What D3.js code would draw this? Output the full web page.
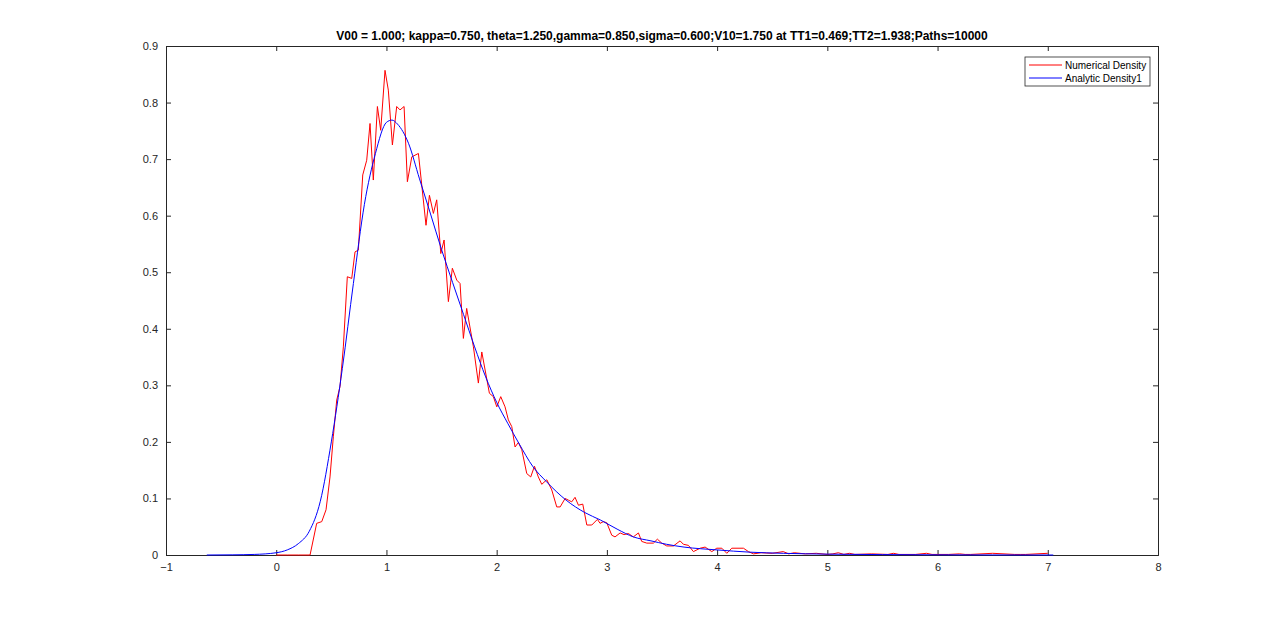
<!DOCTYPE html>
<html><head><meta charset="utf-8">
<script src="https://cdn.jsdelivr.net/npm/d3@7"></script>
<style>body{margin:0;background:#fff}svg{font-family:"Liberation Sans",Arial,sans-serif}</style>
</head><body><svg id="c" width="1280" height="624"></svg>
<script>
const titleText="V00 = 1.000; kappa=0.750, theta=1.250,gamma=0.850,sigma=0.600;V10=1.750 at TT1=0.469;TT2=1.938;Paths=10000";
const xTicks=[-1,0,1,2,3,4,5,6,7,8];
const yTicks=[0,0.1,0.2,0.3,0.4,0.5,0.6,0.7,0.8,0.9];
const numX=[0,0.1,0.2,0.307,0.367,0.413,0.452,0.488,0.518,0.549,0.579,0.609,0.645,0.685,0.715,0.745,0.785,0.821,0.851,0.881,0.918,0.948,0.987,1.017,1.054,1.093,1.123,1.160,1.190,1.230,1.290,1.359,1.390,1.426,1.456,1.493,1.523,1.562,1.598,1.638,1.668,1.698,1.728,1.789,1.834,1.865,1.934,1.970,2.001,2.037,2.076,2.106,2.137,2.167,2.197,2.228,2.273,2.309,2.343,2.378,2.409,2.455,2.500,2.545,2.576,2.621,2.651,2.681,2.711,2.742,2.781,2.818,2.863,2.914,2.938,2.968,2.999,3.044,3.074,3.120,3.156,3.195,3.240,3.286,3.316,3.362,3.422,3.458,3.498,3.543,3.604,3.664,3.694,3.740,3.785,3.846,3.891,3.952,3.997,4.043,4.088,4.133,4.239,4.284,4.330,4.4,4.5,4.6,4.65,4.7,4.8,4.9,5.0,5.05,5.1,5.15,5.2,5.25,5.4,5.55,5.6,5.65,5.8,5.9,5.95,6.1,6.2,6.25,6.3,6.5,6.7,6.75,6.8,7.0];
const numY=[0,0,0,0,0.056,0.059,0.080,0.138,0.209,0.274,0.298,0.368,0.492,0.489,0.536,0.539,0.672,0.698,0.763,0.663,0.793,0.751,0.857,0.822,0.725,0.793,0.787,0.793,0.660,0.704,0.710,0.583,0.636,0.604,0.628,0.533,0.557,0.448,0.507,0.486,0.480,0.383,0.436,0.368,0.304,0.359,0.286,0.280,0.262,0.280,0.262,0.239,0.227,0.191,0.199,0.186,0.144,0.138,0.157,0.138,0.125,0.133,0.115,0.085,0.085,0.100,0.097,0.094,0.102,0.088,0.090,0.053,0.053,0.063,0.056,0.059,0.057,0.035,0.032,0.039,0.036,0.038,0.032,0.039,0.024,0.021,0.021,0.028,0.021,0.016,0.016,0.025,0.019,0.017,0.006,0.012,0.014,0.006,0.012,0.012,0.003,0.012,0.012,0.006,0.002,0.004,0.003,0.006,0.002,0.004,0.002,0.003,0.001,0.002,0.004,0.001,0.003,0.001,0.002,0.001,0.003,0.001,0.001,0.003,0.001,0.001,0.002,0.001,0.001,0.003,0.001,0.001,0.001,0.003,0.001,0];
const anaX=[-0.63,-0.4,-0.2,0,0.1,0.2,0.3,0.4,0.5,0.6,0.7,0.8,0.9,1.0,1.05,1.1,1.2,1.3,1.4,1.5,1.6,1.7,1.8,1.9,2.0,2.1,2.2,2.33,2.45,2.63,2.8,2.94,3.1,3.24,3.4,3.54,3.7,4.0,4.3,4.6,5.0,5.5,6.0,6.5,7.05];
const anaY=[0,0.0003,0.001,0.004,0.009,0.02,0.042,0.095,0.2,0.33,0.48,0.62,0.71,0.765,0.769,0.762,0.728,0.665,0.603,0.54,0.482,0.425,0.368,0.315,0.27,0.233,0.198,0.156,0.13,0.097,0.075,0.062,0.045,0.032,0.025,0.019,0.014,0.009,0.005,0.003,0.0015,0.0007,0.0003,0.0001,0];

const svg=d3.select("#c");
const L=166,R=1158,T=46,B=555;
const x=d3.scaleLinear().domain([-1,8]).range([L,R]);
const y=d3.scaleLinear().domain([0,0.9]).range([B,T]);
svg.append("rect").attr("x",L).attr("y",T).attr("width",R-L).attr("height",B-T).attr("fill","#fff");
const gx=svg.append("g").attr("transform",`translate(0,${B})`).call(d3.axisBottom(x).tickValues(xTicks).tickSize(-5).tickPadding(8).tickFormat(d3.format("d")));
svg.append("g").attr("transform",`translate(0,${T})`).call(d3.axisTop(x).tickValues(xTicks).tickSize(-5).tickFormat(""));
const gy=svg.append("g").attr("transform",`translate(${L},0)`).call(d3.axisLeft(y).tickValues(yTicks).tickSize(-5).tickPadding(8).tickFormat(d=>d===0?"0":d3.format(".1f")(d)));
svg.append("g").attr("transform",`translate(${R},0)`).call(d3.axisRight(y).tickValues(yTicks).tickSize(-5).tickFormat(""));
svg.selectAll(".domain").attr("stroke","#262626");
svg.selectAll(".tick line").attr("stroke","#262626");
svg.selectAll(".tick text").attr("fill","#262626").style("font-size","11px").style("font-family","'Liberation Sans',Arial,sans-serif");
const line=d3.line().x(d=>x(d[0])).y(d=>y(d[1]));
svg.append("path").attr("d",line(numX.map((v,i)=>[v,numY[i]]))).attr("fill","none").attr("stroke","#ff0000").attr("stroke-width",1);
svg.append("path").attr("d",d3.line().curve(d3.curveMonotoneX).x(d=>x(d[0])).y(d=>y(d[1]))(anaX.map((v,i)=>[v,anaY[i]]))).attr("fill","none").attr("stroke","#0000ff").attr("stroke-width",1);
svg.append("text").attr("x",(L+R)/2).attr("y",40).attr("text-anchor","middle").style("font-size","12px").style("font-weight","bold").attr("fill","#000").text(titleText);
const lg=svg.append("g");
lg.append("rect").attr("x",1025).attr("y",57).attr("width",125).attr("height",29).attr("fill","#fff").attr("stroke","#262626").attr("stroke-width",0.8);
[["Numerical Density","#ff0000"],["Analytic Density1","#0000ff"]].forEach((e,i)=>{
 const yy=65+i*13;
 lg.append("line").attr("x1",1029).attr("x2",1062).attr("y1",yy).attr("y2",yy).attr("stroke",e[1]);
 lg.append("text").attr("x",1065).attr("y",yy+3.5).style("font-size","10px").attr("fill","#000").text(e[0]);
});
</script></body></html>
